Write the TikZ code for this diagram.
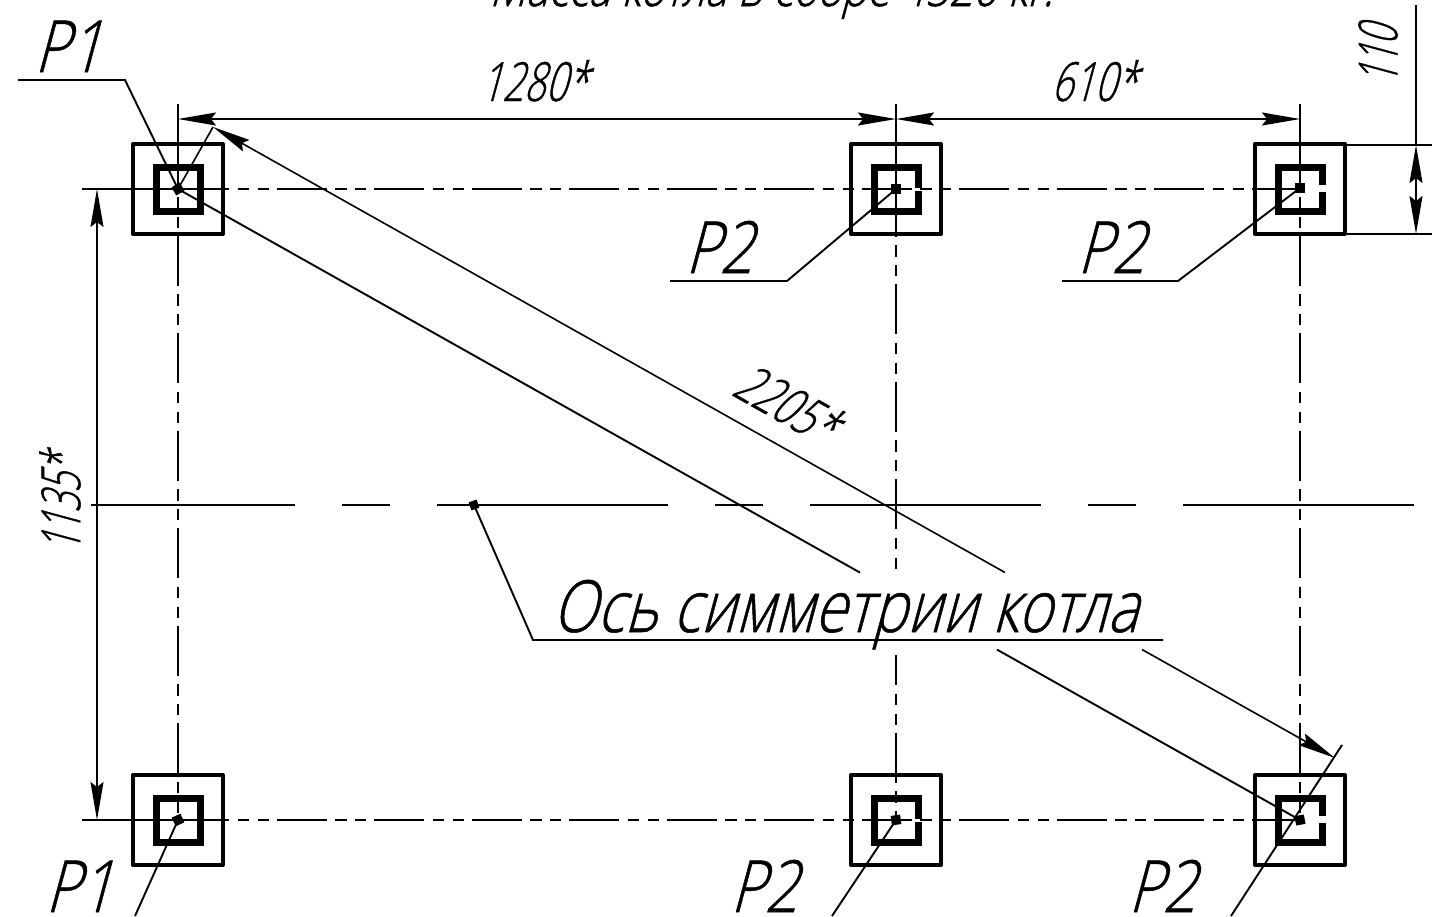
\documentclass[tikz,border=0pt]{standalone}
\usepackage{fontspec}
\usetikzlibrary{arrows.meta}
\newfontfamily\gost[FakeSlant=0.27,FakeStretch=0.81,FakeBold=0.7]{Open Sans Light}
\newfontfamily\gostdim[FakeSlant=0.27,FakeStretch=0.70,FakeBold=0.7]{Open Sans Light}
\newfontfamily\gostvert[FakeSlant=0.27,FakeStretch=0.64,FakeBold=0.7]{Open Sans Light}
\newfontfamily\gosttop[FakeSlant=0.27,FakeStretch=0.78,FakeBold=1]{Open Sans Light}
\tikzset{
 x=1pt,y=-1pt,
 thin line/.style={line width=1.6pt,black},
 lead line/.style={line width=1.9pt,black},
 centre dash/.style={line width=1.9pt,dash pattern=on 50pt off 8.5pt on 11.5pt off 8.5pt on 11pt off 8pt},
 axis dash/.style={line width=1.9pt,dash pattern=on 231pt off 47pt on 48pt off 47pt,dash phase=27pt},
 outer box/.style={draw,line width=4pt,minimum size=90pt,inner sep=0pt,line join=round},
 inner box/.style={draw,line width=7pt,minimum size=44pt,inner sep=0pt},
 dot/.style={fill=black,minimum size=9.5pt,inner sep=0pt},
 tips/.style={{Stealth[length=38pt,width=13pt,inset=5pt]}-{Stealth[length=38pt,width=13pt,inset=5pt]}},
 lab/.style={inner sep=0pt,font=\gost\fontsize{72}{72}\selectfont},
 dim/.style={inner sep=0pt,font=\gostdim\fontsize{54}{54}\selectfont},
 vdim/.style={inner sep=0pt,font=\gostvert\fontsize{54}{54}\selectfont},
 topt/.style={inner sep=0pt,font=\gosttop\fontsize{54}{54}\selectfont},
 gapmask/.style={fill=white,inner sep=0pt,minimum width=10pt,minimum height=7pt},
}
\begin{document}
\begin{tikzpicture}
\useasboundingbox (0,0) rectangle (1451,916);
% free ends
\coordinate (t1a) at (18,80); \coordinate (t1b) at (125,80);
\coordinate (t2a) at (670,281); \coordinate (t2b) at (787,281);
\coordinate (t3a) at (1062,281); \coordinate (t3b) at (1178,281);
\coordinate (b1) at (135,916); \coordinate (b2) at (832,916);
\coordinate (b3a) at (1231,916); \coordinate (b3b) at (1342,745);
\coordinate (ax0) at (91,505); \coordinate (ax1) at (1415,505);
\coordinate (axd) at (533,640); \coordinate (axe) at (1163,640);
% boxes
\foreach \n/\x/\y in {a/178/189,b/896/189,c/1300/189,d/178/820,e/896/820,f/1300/820}{
  \node[outer box] (o\n) at (\x,\y) {};
  \node[inner box] (i\n) at (\x,\y) {};
}
\node[gapmask] (mc) at (1323,188) {};
\node[gapmask] (mf) at (1323,819) {};
\node[gapmask,minimum height=3pt] (mb) at (919,189) {};
\node[gapmask,minimum height=3pt] (me) at (919,820) {};
% centre lines
\coordinate (ra0) at (82,189); \coordinate (ra1) at (179,189); \coordinate (ra2) at (1300,189);
\coordinate (rd0) at (82,820); \coordinate (rd1) at (179,820); \coordinate (rd2) at (1300,820);
\draw[thin line] (ra0)--(ra1); \draw[centre dash] (ra1)--(ra2);
\draw[thin line] (rd0)--(rd1); \draw[centre dash] (rd1)--(rd2);
\coordinate (ca0) at (178,104); \coordinate (ca1) at (178,138); \coordinate (ca2) at (178,820);
\coordinate (cc0) at (1300,104); \coordinate (cc1) at (1300,138); \coordinate (cc2) at (1300,820);
\coordinate (cb0) at (896,104); \coordinate (cb1) at (896,186.5); \coordinate (cb2) at (896,572);
\coordinate (cb3) at (896,655); \coordinate (cb4) at (896,820);
\draw[thin line] (ca0)--(ca1); \draw[centre dash] (ca1)--(ca2);
\draw[thin line] (cc0)--(cc1); \draw[centre dash] (cc1)--(cc2);
\draw[thin line] (cb0)--(cb1); \draw[centre dash] (cb1)--(cb2);
\draw[centre dash,dash phase=20pt] (cb3)--(cb4);
\draw[axis dash] (ax0)--(ax1);
% dots
\node[dot,rotate=30] (da) at (178,189) {};
\node[dot] (db) at (896,189) {};
\node[dot] (dc) at (1300,188) {};
\node[dot,rotate=25] (dd) at (178,820) {};
\node[dot,rotate=8] (de) at (896,820) {};
\node[dot,rotate=10] (df) at (1300,820) {};
\node[dot,rotate=20,minimum size=8.5pt] (dx) at (474,505) {};
% leaders
\draw[lead line] (t1a)--(t1b)--(da.center);
\draw[lead line] (t2a)--(t2b)--(db.center);
\draw[lead line] (t3a)--(t3b)--(dc.center);
\draw[lead line] (dd.center)--(b1);
\draw[lead line] (de.center)--(b2);
\draw[lead line] (b3a)--(b3b);
\draw[lead line] (dx.center)--(axd)--(axe);
% dimension lines
\coordinate (dtop) at (178,119); \coordinate (dmid) at (896,119); \coordinate (dend) at (1300,119);
\draw[thin line,tips] (dtop)--(dmid);
\draw[thin line,tips] (dmid)--(dend);
\coordinate (vtop) at (97,189); \coordinate (vbot) at (97,820);
\draw[thin line,tips] (vtop)--(vbot);
% 110
\coordinate (ha0) at (1345,145); \coordinate (ha1) at (1432,145);
\coordinate (hb0) at (1345,234); \coordinate (hb1) at (1432,234);
\draw[thin line] (ha0)--(ha1); \draw[thin line] (hb0)--(hb1);
\coordinate (w0) at (1416,5); \coordinate (w1) at (1416,145); \coordinate (w2) at (1416,234);
\draw[thin line] (w0)--(w1);
\draw[thin line,tips] (w1)--(w2);
% diagonal
\coordinate (ga) at (213,127); \coordinate (gb) at (1005,572.5);
\coordinate (gc) at (1142,649.5); \coordinate (gd) at (1335,758);
\draw[thin line] (da.center)--(ga);
\draw[thin line,{Stealth[length=38pt,width=13pt,inset=5pt]}-] (ga)--(gb);
\draw[thin line,-{Stealth[length=38pt,width=13pt,inset=5pt]}] (gc)--(gd);
\coordinate (ha) at (860,572.6); \coordinate (hb) at (997,649.6);
\draw[lead line] (da.center)--(ha);
\draw[lead line] (hb)--(df.center);
% labels
\node[lab,anchor=base west] (p1) at (34,72) {P1};
\node[lab,anchor=base west] (p2) at (685,273) {P2};
\node[lab,anchor=base west] (p3) at (1077,273) {P2};
\node[lab,anchor=base west] (p4) at (45,912) {P1};
\node[lab,anchor=base west] (p5) at (730,912) {P2};
\node[lab,anchor=base west] (p6) at (1128,912) {P2};
\node[dim,anchor=base] (t1280) at (534,101) {1280*};
\node[dim,anchor=base] (t610) at (1094,101) {610*};
\node[dim,rotate=-29.4] (t2205) at (787,403) {2205*};
\node[vdim,rotate=90] (t1135) at (60,503) {1135*};
\node[vdim,rotate=90] (t110) at (1378,55) {110};
\node[lab,anchor=base] (axt) at (845,632) {Ось симметрии котла};
\node[topt,anchor=base] (top) at (771,6) {Масса котла в сборе 4520 кг.};
\end{tikzpicture}
\end{document}
